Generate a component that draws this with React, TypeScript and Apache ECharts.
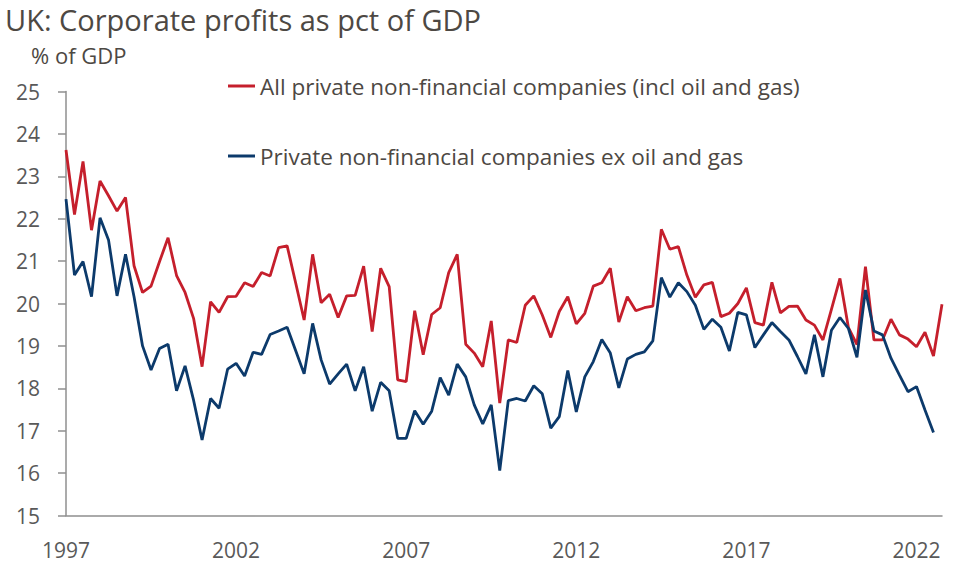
import React, { useEffect, useRef } from "react";
import * as echarts from "echarts";

const TITLE = "UK: Corporate profits as pct of GDP";
const UNIT = "% of GDP";
const SERIES_NAMES = [
  "All private non-financial companies (incl oil and gas)",
  "Private non-financial companies ex oil and gas",
];

const START_YEAR = 1997;
const END_YEAR = 2022;
const QUARTERS = ["Q1", "Q2", "Q3", "Q4"];

const allPNFC = [
  23.62, 22.1, 23.35, 21.73, 22.89, 22.54, 22.18, 22.5,
  20.89, 20.26, 20.41, 20.99, 21.55, 20.66, 20.26, 19.65,
  18.51, 20.04, 19.79, 20.16, 20.17, 20.49, 20.4, 20.73,
  20.65, 21.32, 21.36, 20.49, 19.61, 21.16, 20.02, 20.22,
  19.67, 20.18, 20.19, 20.88, 19.34, 20.83, 20.4, 18.2,
  18.16, 19.83, 18.79, 19.74, 19.9, 20.73, 21.16, 19.04,
  18.83, 18.51, 19.59, 17.65, 19.14, 19.08, 19.96, 20.18,
  19.73, 19.2, 19.81, 20.16, 19.52, 19.77, 20.41, 20.49,
  20.83, 19.56, 20.16, 19.83, 19.9, 19.94, 21.75, 21.28,
  21.34, 20.67, 20.15, 20.44, 20.5, 19.69, 19.77, 20.0,
  20.37, 19.55, 19.49, 20.5, 19.78, 19.93, 19.94, 19.61,
  19.49, 19.14, 19.86, 20.59, 19.43, 19.03, 20.87, 19.14,
  19.14, 19.63, 19.26, 19.16, 18.98, 19.32, 18.76, 19.98,
];

const exOilGas = [
  22.46, 20.67, 20.99, 20.16, 22.02, 21.5, 20.18, 21.16,
  20.16, 19.0, 18.43, 18.94, 19.04, 17.94, 18.53, 17.72,
  16.78, 17.76, 17.53, 18.45, 18.59, 18.29, 18.85, 18.8,
  19.27, 19.35, 19.44, 18.89, 18.34, 19.53, 18.67, 18.1,
  18.34, 18.57, 17.94, 18.51, 17.46, 18.14, 17.94, 16.82,
  16.82, 17.47, 17.15, 17.46, 18.25, 17.84, 18.57, 18.27,
  17.61, 17.16, 17.61, 16.06, 17.71, 17.76, 17.7, 18.06,
  17.87, 17.06, 17.33, 18.42, 17.44, 18.27, 18.63, 19.15,
  18.83, 18.01, 18.69, 18.8, 18.86, 19.12, 20.61, 20.15,
  20.49, 20.28, 19.96, 19.39, 19.63, 19.44, 18.88, 19.79,
  19.73, 18.96, 19.26, 19.55, 19.34, 19.14, 18.75, 18.34,
  19.26, 18.27, 19.37, 19.67, 19.41, 18.73, 20.32, 19.35,
  19.26, 18.71, 18.31, 17.92, 18.04, 17.49, 16.96,
];

const Y_MIN = 15;
const Y_MAX = 25;
const Y_STEP = 1;
const LABEL_EVERY_YEARS = 5;

const categories: string[] = [];
for (let y = START_YEAR; y <= END_YEAR; y++) {
  for (const q of QUARTERS) categories.push(`${y} ${q}`);
}

const FONT = "'Open Sans', 'Noto Sans', sans-serif";
const RED = "#c51f2c";
const BLUE = "#0c3a6b";
const TEXT = "#4d4843";
const LABEL = "#595959";
const AXIS = "#8f8f8f";

export default function App() {
  const ref = useRef<HTMLDivElement>(null);
  useEffect(() => {
    if (!ref.current) return;
    document.body.style.margin = "0";
    const chart = echarts.init(ref.current, undefined, { renderer: "svg" });
    chart.setOption({
      animation: false,
      backgroundColor: "#ffffff",
      textStyle: { fontFamily: FONT },
      title: [
        {
          text: TITLE,
          left: 5,
          top: 5,
          padding: 0,
          textStyle: { fontFamily: FONT, fontSize: 29, fontWeight: "normal", color: TEXT },
        },
        {
          text: UNIT,
          left: 31,
          top: 44,
          padding: 0,
          textStyle: { fontFamily: FONT, fontSize: 22, fontWeight: "normal", color: TEXT },
        },
      ],
      legend: {
        orient: "vertical",
        left: 223,
        top: 68,
        itemWidth: 27,
        itemHeight: 3,
        itemGap: 44,
        icon: "rect",
        textStyle: { fontFamily: FONT, fontSize: 22.5, color: TEXT, lineHeight: 26 },
        data: SERIES_NAMES,
      },
      grid: { left: 66, right: 17, top: 91.5, bottom: 60.5, containLabel: false },
      xAxis: {
        type: "category",
        data: categories,
        boundaryGap: false,
        axisLine: { lineStyle: { color: AXIS, width: 1.5 } },
        axisTick: { show: false },
        axisLabel: {
          interval: (idx: number) => idx % (LABEL_EVERY_YEARS * 4) === 0,
          formatter: (v: string) => v.slice(0, 4),
          fontFamily: FONT,
          fontSize: 21,
          color: LABEL,
          margin: 24,
        },
        splitLine: { show: false },
      },
      yAxis: {
        type: "value",
        min: Y_MIN,
        max: Y_MAX,
        interval: Y_STEP,
        axisLine: { show: true, lineStyle: { color: AXIS, width: 1.5 } },
        axisTick: { show: true, length: 8, lineStyle: { color: AXIS, width: 1.5 } },
        axisLabel: { fontFamily: FONT, fontSize: 21, color: LABEL, margin: 26 },
        splitLine: { show: false },
      },
      series: [
        {
          name: SERIES_NAMES[0],
          type: "line",
          data: allPNFC,
          showSymbol: false,
          symbol: "none",
          lineStyle: { color: RED, width: 2.8 },
          itemStyle: { color: RED },
        },
        {
          name: SERIES_NAMES[1],
          type: "line",
          data: exOilGas,
          showSymbol: false,
          symbol: "none",
          lineStyle: { color: BLUE, width: 2.8 },
          itemStyle: { color: BLUE },
        },
      ],
    });
    return () => chart.dispose();
  }, []);
  return (
    <div
      ref={ref}
      style={{ position: "absolute", left: 0, top: 0, width: 959, height: 576 }}
    />
  );
}
